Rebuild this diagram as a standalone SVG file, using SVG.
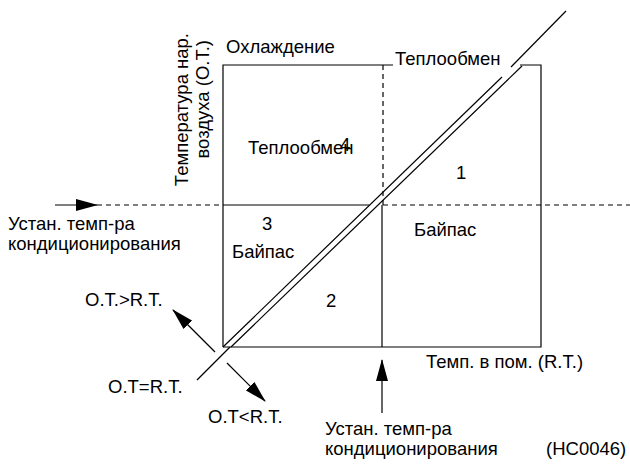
<svg xmlns="http://www.w3.org/2000/svg" width="630" height="467" viewBox="0 0 630 467">
<defs>
<marker id="ah" markerUnits="userSpaceOnUse" markerWidth="22" markerHeight="12" refX="21" refY="6" orient="auto">
<path d="M0,0 L22,6 L0,12 z" fill="#000"/>
</marker>
<style>
.ln{stroke:#000;stroke-width:1.2;fill:none}
.dash{stroke:#000;stroke-width:1.2;fill:none;stroke-dasharray:5 4}
.t{font-family:"Liberation Sans",Arial,sans-serif;font-size:18.5px;fill:#000}
</style>
</defs>
<rect width="630" height="467" fill="#fff"/>
<g id="frame">
<path class="ln" d="M223,347 V65 H393 M520,65 H541 V347 H223"/>
<path class="dash" d="M383,65 V205"/>
<path class="ln" d="M382,205 V347"/>
<path class="dash" d="M97,205 H223"/>
<path class="ln" d="M223,205 H369"/>
<path class="dash" d="M383,205 H630"/>
</g>
<g id="diagonal">
<path class="ln" d="M223,347 L502,77"/>
<path class="ln" d="M231,347 L522,66"/>
<path class="ln" d="M511,67 L566,11"/>
<path class="ln" d="M197,380 L230,347"/>
</g>
<g id="connectors">
<path class="ln" d="M55,205 H97" marker-end="url(#ah)"/>
<path class="ln" d="M382,413 V360" marker-end="url(#ah)"/>
<path class="ln" d="M215,352 L173,310" marker-end="url(#ah)"/>
<path class="ln" d="M227,363 L265,401" marker-end="url(#ah)"/>
</g>
<g id="labels">
<text class="t" x="226" y="53">Охлаждение</text>
<text class="t" x="395" y="65">Теплообмен</text>
<text class="t" transform="translate(188,33) rotate(-90)" text-anchor="end">Температура нар.</text>
<text class="t" transform="translate(209,40) rotate(-90)" text-anchor="end">воздуха (О.Т.)</text>
<text class="t" x="248" y="154">Теплообмен</text>
<text class="t" x="340" y="151">4</text>
<text class="t" x="456" y="179">1</text>
<text class="t" x="262" y="230">3</text>
<text class="t" x="232" y="258">Байпас</text>
<text class="t" x="414" y="236">Байпас</text>
<text class="t" x="326" y="307">2</text>
<text class="t" x="8" y="230">Устан. темп-ра</text>
<text class="t" x="8" y="250">кондиционирования</text>
<text class="t" x="85" y="306">O.T.&gt;R.T.</text>
<text class="t" x="108" y="393">O.T=R.T.</text>
<text class="t" x="208" y="423">O.T&lt;R.T.</text>
<text class="t" x="426" y="368">Темп. в пом. (R.T.)</text>
<text class="t" x="325" y="435">Устан. темп-ра</text>
<text class="t" x="325" y="455">кондиционирования</text>
<text class="t" x="546" y="455">(HC0046)</text>
</g>
</svg>
